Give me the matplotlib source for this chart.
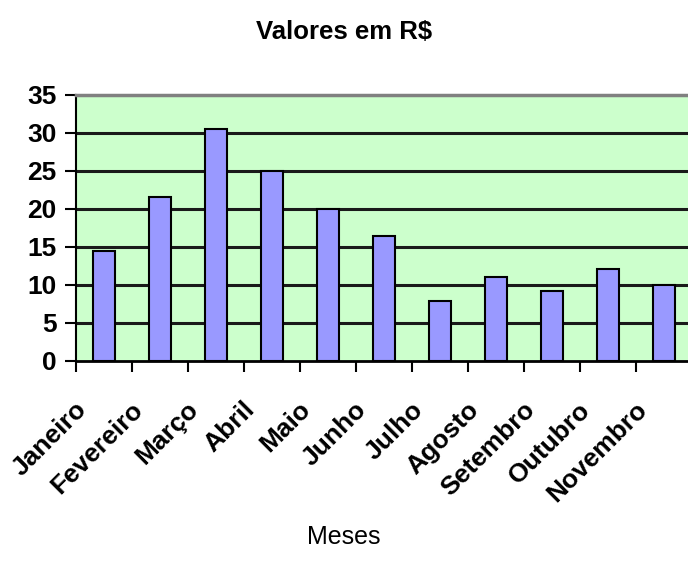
import matplotlib
matplotlib.use("Agg")
import matplotlib.pyplot as plt
import matplotlib.transforms as mtransforms
import numpy as np

plt.rcParams['font.family'] = ['Liberation Sans', 'DejaVu Sans']

meses = ["Janeiro", "Fevereiro", "Março", "Abril", "Maio", "Junho",
         "Julho", "Agosto", "Setembro", "Outubro", "Novembro"]
valores = [14.5, 21.6, 30.5, 25.0, 20.0, 16.4, 7.9, 11.1, 9.25, 12.1, 10.0]
yticks = [0, 5, 10, 15, 20, 25, 30, 35]

fig = plt.figure(figsize=(6.88, 5.75), dpi=100)
ax = fig.add_axes([76/688, (575-361)/575, (692-76)/688, (361-95)/575])
ax.set_facecolor('#CCFFCC')

x = np.arange(len(meses))
ax.bar(x, valores, width=0.4, color='#9999FF', edgecolor='black', linewidth=1.5, zorder=3)

ax.set_xlim(-0.5, len(meses) - 0.5)
ax.set_ylim(0, 35)
ax.set_yticks(yticks)
ax.set_yticklabels([str(v) for v in yticks], fontsize=19, fontweight='bold')
for v in yticks[1:-1]:
    ax.axhline(v, color='#1a1a1a', linewidth=2.2, zorder=1)

ax.set_xticks(np.arange(-0.5, len(meses) - 0.5, 1.0))
ax.set_xticklabels([])
ax.set_xticks(x, minor=True)
ax.set_xticklabels(meses, minor=True, fontsize=19, fontweight='bold',
                   rotation=45, ha='right', va='center', rotation_mode='anchor')
ax.tick_params(axis='x', which='minor', length=0, pad=45 * 72 / 100)
ax.tick_params(axis='x', which='major', length=8, width=1.5, direction='out')
ax.tick_params(axis='y', length=8, width=1.5, direction='out', pad=6)

offset = mtransforms.ScaledTranslation(-21 / 100, 0, fig.dpi_scale_trans)
for lbl in ax.get_xticklabels(minor=True):
    lbl.set_transform(lbl.get_transform() + offset)

ax.spines['top'].set_color('#808080')
ax.spines['top'].set_linewidth(2.5)
ax.spines['right'].set_visible(False)
ax.spines['left'].set_linewidth(1.5)
ax.spines['bottom'].set_linewidth(2)

fig.text(0.5, 1 - 32/575, "Valores em R$", ha='center', va='center',
         fontsize=18.5, fontweight='bold')
fig.text(0.5, 1 - 537/575, "Meses", ha='center', va='center', fontsize=18)

fig.savefig("out.png", dpi=100)
